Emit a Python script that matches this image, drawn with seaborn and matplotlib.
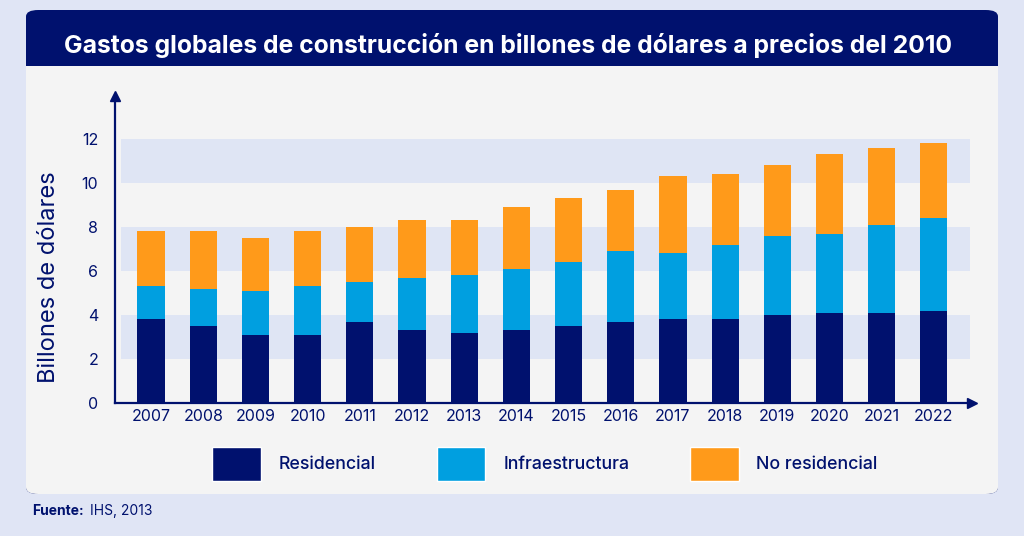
import numpy as np
import pandas as pd
import seaborn as sns
import matplotlib.pyplot as plt
from matplotlib.patches import FancyBboxPatch, Rectangle, Patch

# --- Data (billones de dólares, precios 2010) ---
years = [str(y) for y in range(2007, 2023)]
residencial = [3.8, 3.5, 3.1, 3.1, 3.7, 3.3, 3.2, 3.3, 3.5, 3.7, 3.8, 3.8, 4.0, 4.1, 4.1, 4.2]
infraestructura = [1.5, 1.7, 2.0, 2.2, 1.8, 2.4, 2.6, 2.8, 2.9, 3.2, 3.0, 3.4, 3.6, 3.6, 4.0, 4.2]
no_residencial = [2.5, 2.6, 2.4, 2.5, 2.5, 2.6, 2.5, 2.8, 2.9, 2.8, 3.5, 3.2, 3.2, 3.6, 3.5, 3.4]
y_ticks = [0, 2, 4, 6, 8, 10, 12]

NAVY = "#00116E"
BLUE = "#009FE0"
ORANGE = "#FF9A1A"
BAND = "#DFE5F4"
CARD = "#F4F4F4"
BG = "#E0E5F5"

df = pd.DataFrame({"year": years, "res": residencial, "inf": infraestructura, "nores": no_residencial})
df["s2"] = df["res"] + df["inf"]
df["s3"] = df["s2"] + df["nores"]

sns.set_theme(style="white")
plt.rcParams["font.family"] = ["Inter", "DejaVu Sans"]

W, H = 1024, 536
fig = plt.figure(figsize=(W / 100, H / 100), dpi=100, facecolor=BG)

def fx(px):
    return px / W

def fy(py):
    return 1 - py / H

# --- card with header (behind the axes) ---
fig.patches.append(FancyBboxPatch((fx(26), fy(494)), fx(998 - 26), (494 - 10) / H,
                                  boxstyle="round,pad=0,rounding_size=0.012",
                                  transform=fig.transFigure, facecolor=NAVY, edgecolor="none", zorder=-10))
fig.patches.append(FancyBboxPatch((fx(26), fy(494)), fx(998 - 26), (494 - 66) / H,
                                  boxstyle="round,pad=0,rounding_size=0.012",
                                  transform=fig.transFigure, facecolor=CARD, edgecolor="none", zorder=-9))
fig.patches.append(Rectangle((fx(26), fy(90)), fx(998 - 26), 24 / H,
                             transform=fig.transFigure, facecolor=CARD, edgecolor="none", zorder=-8))
fig.text(fx(508), fy(45), "Gastos globales de construcción en billones de dólares a precios del 2010",
         color="white", fontsize=17.8, fontweight="bold", ha="center", va="center")

# --- axes ---
ax = fig.add_axes([fx(115), fy(403), fx(972 - 115), (403 - 96) / H])
ax.set_facecolor("none")

for lo in (2, 6, 10):
    ax.axhspan(lo, lo + 2, xmin=6 / 857, xmax=855 / 857, color=BAND, zorder=0, lw=0)

sns.barplot(data=df, x="year", y="s3", color=ORANGE, width=0.52, saturation=1, linewidth=0, ax=ax, zorder=2)
sns.barplot(data=df, x="year", y="s2", color=BLUE, width=0.52, saturation=1, linewidth=0, ax=ax, zorder=3)
sns.barplot(data=df, x="year", y="res", color=NAVY, width=0.52, saturation=1, linewidth=0, ax=ax, zorder=4)

ax.set_xlim(-0.69, 15.73)
ax.set_ylim(0, 307 / 22)
ax.set_yticks(y_ticks)
ax.tick_params(axis="both", length=0, colors=NAVY, labelsize=11.5)
ax.tick_params(axis="y", pad=12)
ax.tick_params(axis="x", pad=4)
ax.set_xlabel("")
ax.set_ylabel("Billones de dólares", fontsize=17, color=NAVY)
ax.yaxis.set_label_coords(-0.064, 0.41)

for side in ("top", "right"):
    ax.spines[side].set_visible(False)
for side in ("left", "bottom"):
    ax.spines[side].set_color(NAVY)
    ax.spines[side].set_linewidth(1.6)
ax.plot(1, 0, ">", color=NAVY, markersize=7, transform=ax.transAxes, clip_on=False)
ax.plot(0, 1, "^", color=NAVY, markersize=7, transform=ax.transAxes, clip_on=False)

# --- legend ---
handles = [Patch(facecolor=NAVY, label="Residencial"),
           Patch(facecolor=BLUE, label="Infraestructura"),
           Patch(facecolor=ORANGE, label="No residencial")]
fig.legend(handles=handles, loc="center", bbox_to_anchor=(fx(545), fy(464)), ncol=3,
           frameon=False, handlelength=2.75, handleheight=2.65,
           handletextpad=1.0, columnspacing=3.4, labelcolor=NAVY,
           prop={"weight": "medium", "size": 12.8})

# --- source ---
fig.text(fx(32), fy(511), "Fuente:", color=NAVY, fontsize=10, fontweight="bold", va="center")
fig.text(fx(90), fy(511), "IHS, 2013", color=NAVY, fontsize=10, va="center")

fig.savefig("out.png", dpi=100, facecolor=BG)
